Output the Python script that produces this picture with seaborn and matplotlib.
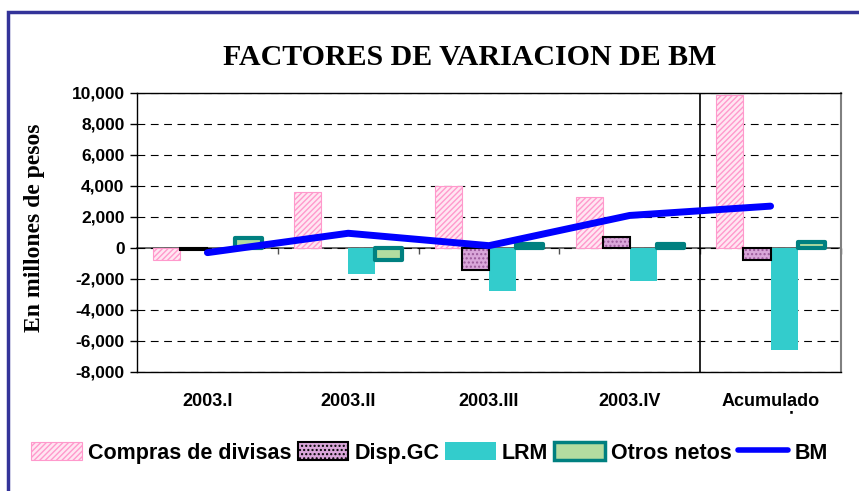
import numpy as np
import pandas as pd
import matplotlib.pyplot as plt
import seaborn as sns
from matplotlib.patches import Patch, Rectangle
from matplotlib.lines import Line2D
from matplotlib.ticker import FuncFormatter

periods = ["2003.I", "2003.II", "2003.III", "2003.IV", "Acumulado\nanual"]
series = ["Compras de divisas", "Disp.GC", "LRM", "Otros netos"]
compras = [-800, 3600, 4000, 3300, 9900]
disp_gc = [-150, 0, -1400, 700, -800]
lrm = [0, -1700, -2800, -2100, -6600]
otros = [650, -800, 250, 250, 400]
bm = [-300, 950, 150, 2100, 2700]

df = pd.DataFrame({
    "periodo": periods * 4,
    "serie": np.repeat(series, len(periods)),
    "valor": compras + disp_gc + lrm + otros,
})

sns.set_style("white")
plt.rcParams['font.family'] = ['Liberation Sans', 'DejaVu Sans']
plt.rcParams['text.color'] = 'black'
plt.rcParams['xtick.color'] = 'black'
plt.rcParams['ytick.color'] = 'black'

fig = plt.figure(figsize=(8.59, 4.91), dpi=100)
ax = fig.add_axes([0.1595, 0.2424, 0.8195, 0.5682])

sns.barplot(data=df, x="periodo", y="valor", hue="serie", order=periods,
            hue_order=series, width=0.77, errorbar=None, saturation=1,
            legend=False, ax=ax)

# bar styles per series
styles = {
    "Compras de divisas": dict(facecolor="#ffe6f2", edgecolor="#ff99cc", hatch="//////", linewidth=0.8),
    "Disp.GC": dict(facecolor="#d9a6d9", edgecolor="#9a5a9a", hatch="....", linewidth=0),
    "LRM": dict(facecolor="#33cccc", edgecolor="#33cccc", hatch=None, linewidth=0),
    "Otros netos": dict(facecolor="#b3dca0", edgecolor="#008080", hatch=None, linewidth=3),
}
for name, cont in zip(series, ax.containers):
    st = styles[name]
    for bar in cont:
        bar.set_facecolor(st["facecolor"])
        bar.set_edgecolor(st["edgecolor"])
        bar.set_linewidth(st["linewidth"])
        bar.set_hatch(st["hatch"])
        bar.set_zorder(3)
        if name == "Otros netos":
            bar.set_joinstyle("round")
        if name == "Disp.GC" and bar.get_height() != 0:
            ax.add_patch(Rectangle(bar.get_xy(), bar.get_width(), bar.get_height(),
                                   fill=False, edgecolor="black", linewidth=1.5, zorder=4))

x = np.arange(len(periods))
sns.lineplot(x=x, y=bm, color="#0000ff", linewidth=5, ax=ax, zorder=5,
             solid_capstyle="round", legend=False)

ax.set_xlim(-0.5, len(periods) - 0.5)
ax.set_ylim(-8000, 10000)
ax.set_yticks(np.arange(-8000, 10001, 2000))
ax.yaxis.set_major_formatter(FuncFormatter(lambda v, p: f"{int(v):,}"))
ax.grid(axis="y", color="black", linestyle=(0, (7, 5)), linewidth=0.8)
ax.set_axisbelow(True)
ax.axvline(3.5, color="black", linewidth=1.2, zorder=2)

# zero line with group-separator ticks
zero = ax.secondary_xaxis(0, transform=ax.transData)
zero.set_xticks(np.arange(len(periods)) + 0.5)
zero.tick_params(direction="out", length=4, width=1, color="#505050", labelbottom=False)
zero.spines["bottom"].set_color("#505050")
zero.spines["bottom"].set_linewidth(1.2)

ax.set_xlabel("")
ax.set_ylabel("")
ax.tick_params(axis="x", length=0, pad=15, labelsize=13)
ax.tick_params(axis="y", direction="out", length=5, width=1, pad=4, left=True, labelsize=12.5)
for lab in ax.get_xticklabels() + ax.get_yticklabels():
    lab.set_fontweight("bold")
for lab in ax.get_xticklabels():
    lab.set_linespacing(1.1)

for s in ["left", "bottom", "top"]:
    ax.spines[s].set_color("black")
    ax.spines[s].set_linewidth(1)
ax.spines["right"].set_color("#808080")
ax.spines["right"].set_linewidth(1.5)

fig.text(0.5466, 0.883, "FACTORES DE VARIACION DE BM", ha="center", va="center",
         family="Liberation Serif", fontweight="bold", fontsize=21.5, color="black")
fig.text(0.0407, 0.5356, "En millones de pesos", rotation=90, ha="center", va="center",
         family="Liberation Serif", fontweight="bold", fontsize=17, color="black")

handles = [
    Patch(**{k: v for k, v in styles["Compras de divisas"].items()}),
    Patch(facecolor="#d9a6d9", edgecolor="black", hatch="....", linewidth=1.5),
    Patch(facecolor="#33cccc", edgecolor="#33cccc", linewidth=0),
    Patch(facecolor="#b3dca0", edgecolor="#008080", linewidth=2.5),
    Line2D([0], [0], color="#0000ff", linewidth=4),
]
leg = fig.legend(handles, series + ["BM"], loc="center", bbox_to_anchor=(0.5, 0.0774),
                 ncol=5, frameon=True, framealpha=1, facecolor="white", edgecolor="white",
                 handlelength=2.35, handleheight=0.9, handletextpad=0.28, columnspacing=0.28,
                 borderpad=1.3, prop={"weight": "bold", "size": 15.5})
leg.set_zorder(10)

# outer chart border (left and top visible)
border = Rectangle((8 / 859, -0.1), 1.2, 1 - 12 / 491 + 0.1, transform=fig.transFigure,
                   fill=False, edgecolor="#333399", linewidth=2.5, zorder=20)
fig.patches.append(border)

plt.savefig("out.png", dpi=100)
